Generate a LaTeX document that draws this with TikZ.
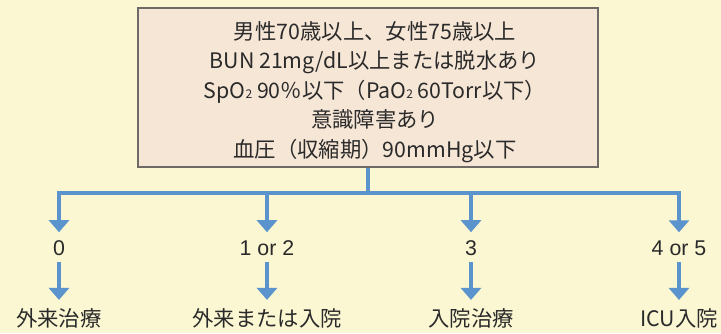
\documentclass[tikz,border=0pt]{standalone}
\usepackage{fontspec}
\setmainfont{Noto Sans CJK JP}
\newfontfamily\numfont{Liberation Sans}
\usetikzlibrary{arrows.meta}
\definecolor{bgcol}{HTML}{FBF7D3}
\definecolor{boxfill}{HTML}{F6E6D6}
\definecolor{boxline}{HTML}{6E6B66}
\definecolor{flow}{HTML}{5B93CC}
\definecolor{ink}{HTML}{2A2A2A}
\tikzset{
  condbox/.style={draw=boxline, line width=1.5pt, fill=boxfill, minimum width=345pt, minimum height=119.25pt, inner sep=0pt},
  condtext/.style={align=center, font=\fontsize{16}{22.2}\selectfont, text=ink, inner sep=0pt},
  score/.style={font=\numfont\fontsize{16}{18}\selectfont, text=ink, inner sep=0pt},
  result/.style={font=\fontsize{16}{18}\selectfont, text=ink, inner sep=0pt},
  flowline/.style={draw=flow, line width=2.3pt},
  flowarrow/.style={flowline, -{Triangle[width=15pt,length=9pt]}},
}
\newcommand{\subtwo}{{\fontsize{9}{9}\selectfont 2}}
\begin{document}
\begin{tikzpicture}[x=0.75pt,y=-0.75pt]
\fill[bgcol] (0,0) rectangle (721,333);
\useasboundingbox (0,0) rectangle (721,333);
\node[condbox] (box) at (368,87.5) {};
\node[condtext] (boxtext) at (375,92) {男性70歳以上、女性75歳以上\\
BUN 21mg/dL以上または脱水あり\\
SpO\subtwo\ 90％以下（PaO\subtwo\ 60Torr以下）\\
意識障害あり\\
血圧（収縮期）90mmHg以下};
\coordinate (hub) at (368,193);
\coordinate (c0) at (59,193);
\coordinate (c1) at (267,193);
\coordinate (c2) at (471,193);
\coordinate (c3) at (679,193);
\node[score] (n0) at (59,248) {0};
\node[score] (n1) at (267,248) {1 or 2};
\node[score] (n2) at (471,248) {3};
\node[score] (n3) at (679,248) {4 or 5};
\node[result] (r0) at (59,318) {外来治療};
\node[result] (r1) at (267,318) {外来または入院};
\node[result] (r2) at (471,318) {入院治療};
\node[result] (r3) at (679,318) {ICU入院};
\draw[flowline] (box.south) -- (hub);
\draw[flowline, line cap=rect] (c0) -- (c3);
\foreach \i in {0,1,2,3} {
  \draw[flowarrow, shorten >=6pt] (c\i) -- (n\i.north);
  \draw[flowarrow, shorten <=5pt, shorten >=6pt] (n\i.south) -- (r\i.north);
}
\end{tikzpicture}
\end{document}
